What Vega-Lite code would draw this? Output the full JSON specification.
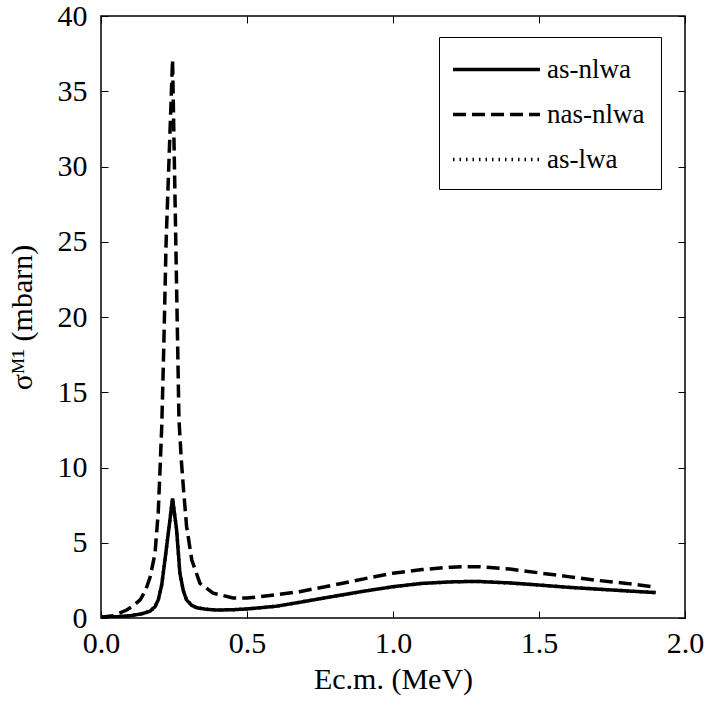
{
  "$schema": "https://vega.github.io/schema/vega-lite/v6.json",
  "description": "M1 cross section vs centre-of-mass energy",
  "width": 584,
  "height": 602,
  "autosize": "none",
  "padding": {"left": 101, "top": 16, "right": 21, "bottom": 83},
  "background": "white",
  "config": {
    "view": {"stroke": "black", "strokeWidth": 1.5},
    "font": "Liberation Serif, Times New Roman, serif",
    "axis": {
      "domain": false,
      "grid": false,
      "labelFlush": false,
      "labelOverlap": false,
      "tickColor": "black",
      "tickWidth": 1,
      "tickSize": -7,
      "labelFont": "Liberation Serif, Times New Roman, serif",
      "labelFontSize": 30,
      "labelColor": "black",
      "titleFont": "Liberation Serif, Times New Roman, serif",
      "titleFontSize": 30,
      "titleFontWeight": "normal",
      "titleColor": "black"
    }
  },
  "data": {
    "values": [
      {"E": 0.0, "sigma": 0.05, "model": "as-nlwa"},
      {"E": 0.05, "sigma": 0.08, "model": "as-nlwa"},
      {"E": 0.1, "sigma": 0.15, "model": "as-nlwa"},
      {"E": 0.14, "sigma": 0.28, "model": "as-nlwa"},
      {"E": 0.168, "sigma": 0.45, "model": "as-nlwa"},
      {"E": 0.185, "sigma": 0.75, "model": "as-nlwa"},
      {"E": 0.196, "sigma": 1.2, "model": "as-nlwa"},
      {"E": 0.208, "sigma": 2.2, "model": "as-nlwa"},
      {"E": 0.219, "sigma": 3.85, "model": "as-nlwa"},
      {"E": 0.236, "sigma": 6.5, "model": "as-nlwa"},
      {"E": 0.245, "sigma": 7.95, "model": "as-nlwa"},
      {"E": 0.259, "sigma": 5.85, "model": "as-nlwa"},
      {"E": 0.27, "sigma": 3.0, "model": "as-nlwa"},
      {"E": 0.282, "sigma": 1.8, "model": "as-nlwa"},
      {"E": 0.293, "sigma": 1.2, "model": "as-nlwa"},
      {"E": 0.31, "sigma": 0.85, "model": "as-nlwa"},
      {"E": 0.328, "sigma": 0.68, "model": "as-nlwa"},
      {"E": 0.36, "sigma": 0.58, "model": "as-nlwa"},
      {"E": 0.396, "sigma": 0.53, "model": "as-nlwa"},
      {"E": 0.45, "sigma": 0.55, "model": "as-nlwa"},
      {"E": 0.5, "sigma": 0.6, "model": "as-nlwa"},
      {"E": 0.6, "sigma": 0.78, "model": "as-nlwa"},
      {"E": 0.682, "sigma": 1.05, "model": "as-nlwa"},
      {"E": 0.8, "sigma": 1.45, "model": "as-nlwa"},
      {"E": 0.9, "sigma": 1.78, "model": "as-nlwa"},
      {"E": 1.0, "sigma": 2.08, "model": "as-nlwa"},
      {"E": 1.1, "sigma": 2.3, "model": "as-nlwa"},
      {"E": 1.2, "sigma": 2.4, "model": "as-nlwa"},
      {"E": 1.25, "sigma": 2.42, "model": "as-nlwa"},
      {"E": 1.3, "sigma": 2.42, "model": "as-nlwa"},
      {"E": 1.4, "sigma": 2.33, "model": "as-nlwa"},
      {"E": 1.5, "sigma": 2.19, "model": "as-nlwa"},
      {"E": 1.6, "sigma": 2.04, "model": "as-nlwa"},
      {"E": 1.7, "sigma": 1.92, "model": "as-nlwa"},
      {"E": 1.8, "sigma": 1.8, "model": "as-nlwa"},
      {"E": 1.9, "sigma": 1.69, "model": "as-nlwa"},

      {"E": 0.0, "sigma": 0.05, "model": "nas-nlwa"},
      {"E": 0.04, "sigma": 0.15, "model": "nas-nlwa"},
      {"E": 0.088, "sigma": 0.53, "model": "nas-nlwa"},
      {"E": 0.11, "sigma": 0.8, "model": "nas-nlwa"},
      {"E": 0.134, "sigma": 1.2, "model": "nas-nlwa"},
      {"E": 0.152, "sigma": 1.8, "model": "nas-nlwa"},
      {"E": 0.168, "sigma": 2.7, "model": "nas-nlwa"},
      {"E": 0.185, "sigma": 4.3, "model": "nas-nlwa"},
      {"E": 0.196, "sigma": 7.0, "model": "nas-nlwa"},
      {"E": 0.202, "sigma": 9.8, "model": "nas-nlwa"},
      {"E": 0.208, "sigma": 12.7, "model": "nas-nlwa"},
      {"E": 0.215, "sigma": 18.0, "model": "nas-nlwa"},
      {"E": 0.223, "sigma": 25.0, "model": "nas-nlwa"},
      {"E": 0.245, "sigma": 37.1, "model": "nas-nlwa"},
      {"E": 0.267, "sigma": 13.2, "model": "nas-nlwa"},
      {"E": 0.275, "sigma": 10.5, "model": "nas-nlwa"},
      {"E": 0.282, "sigma": 8.7, "model": "nas-nlwa"},
      {"E": 0.293, "sigma": 6.1, "model": "nas-nlwa"},
      {"E": 0.311, "sigma": 3.85, "model": "nas-nlwa"},
      {"E": 0.339, "sigma": 2.3, "model": "nas-nlwa"},
      {"E": 0.384, "sigma": 1.65, "model": "nas-nlwa"},
      {"E": 0.452, "sigma": 1.33, "model": "nas-nlwa"},
      {"E": 0.5, "sigma": 1.33, "model": "nas-nlwa"},
      {"E": 0.545, "sigma": 1.42, "model": "nas-nlwa"},
      {"E": 0.6, "sigma": 1.55, "model": "nas-nlwa"},
      {"E": 0.68, "sigma": 1.75, "model": "nas-nlwa"},
      {"E": 0.8, "sigma": 2.2, "model": "nas-nlwa"},
      {"E": 0.9, "sigma": 2.6, "model": "nas-nlwa"},
      {"E": 1.0, "sigma": 2.98, "model": "nas-nlwa"},
      {"E": 1.1, "sigma": 3.22, "model": "nas-nlwa"},
      {"E": 1.2, "sigma": 3.38, "model": "nas-nlwa"},
      {"E": 1.25, "sigma": 3.41, "model": "nas-nlwa"},
      {"E": 1.3, "sigma": 3.4, "model": "nas-nlwa"},
      {"E": 1.4, "sigma": 3.25, "model": "nas-nlwa"},
      {"E": 1.5, "sigma": 3.0, "model": "nas-nlwa"},
      {"E": 1.6, "sigma": 2.75, "model": "nas-nlwa"},
      {"E": 1.7, "sigma": 2.5, "model": "nas-nlwa"},
      {"E": 1.8, "sigma": 2.3, "model": "nas-nlwa"},
      {"E": 1.89, "sigma": 2.08, "model": "nas-nlwa"},

      {"E": 0.0, "sigma": 0.05, "model": "as-lwa"},
      {"E": 0.05, "sigma": 0.08, "model": "as-lwa"},
      {"E": 0.1, "sigma": 0.15, "model": "as-lwa"},
      {"E": 0.14, "sigma": 0.28, "model": "as-lwa"},
      {"E": 0.168, "sigma": 0.45, "model": "as-lwa"},
      {"E": 0.185, "sigma": 0.75, "model": "as-lwa"},
      {"E": 0.196, "sigma": 1.2, "model": "as-lwa"},
      {"E": 0.208, "sigma": 2.2, "model": "as-lwa"},
      {"E": 0.219, "sigma": 3.85, "model": "as-lwa"},
      {"E": 0.236, "sigma": 6.5, "model": "as-lwa"},
      {"E": 0.245, "sigma": 7.95, "model": "as-lwa"},
      {"E": 0.259, "sigma": 5.85, "model": "as-lwa"},
      {"E": 0.27, "sigma": 3.0, "model": "as-lwa"},
      {"E": 0.282, "sigma": 1.8, "model": "as-lwa"},
      {"E": 0.293, "sigma": 1.2, "model": "as-lwa"},
      {"E": 0.31, "sigma": 0.85, "model": "as-lwa"},
      {"E": 0.328, "sigma": 0.68, "model": "as-lwa"},
      {"E": 0.36, "sigma": 0.58, "model": "as-lwa"},
      {"E": 0.396, "sigma": 0.53, "model": "as-lwa"},
      {"E": 0.45, "sigma": 0.55, "model": "as-lwa"},
      {"E": 0.5, "sigma": 0.6, "model": "as-lwa"},
      {"E": 0.6, "sigma": 0.78, "model": "as-lwa"},
      {"E": 0.682, "sigma": 1.05, "model": "as-lwa"},
      {"E": 0.8, "sigma": 1.45, "model": "as-lwa"},
      {"E": 0.9, "sigma": 1.78, "model": "as-lwa"},
      {"E": 1.0, "sigma": 2.08, "model": "as-lwa"},
      {"E": 1.1, "sigma": 2.3, "model": "as-lwa"},
      {"E": 1.2, "sigma": 2.4, "model": "as-lwa"},
      {"E": 1.25, "sigma": 2.42, "model": "as-lwa"},
      {"E": 1.3, "sigma": 2.42, "model": "as-lwa"},
      {"E": 1.4, "sigma": 2.33, "model": "as-lwa"},
      {"E": 1.5, "sigma": 2.19, "model": "as-lwa"},
      {"E": 1.6, "sigma": 2.04, "model": "as-lwa"},
      {"E": 1.7, "sigma": 1.92, "model": "as-lwa"},
      {"E": 1.8, "sigma": 1.8, "model": "as-lwa"},
      {"E": 1.9, "sigma": 1.69, "model": "as-lwa"}
    ]
  },
  "layer": [
    {
      "mark": {"type": "line", "color": "black", "opacity": 0},
      "encoding": {
        "x": {
          "field": "E", "type": "quantitative",
          "scale": {"domain": [0, 2], "nice": false, "zero": false},
          "axis": {"orient": "top", "labels": false, "title": null, "values": [0, 0.5, 1, 1.5, 2]}
        },
        "y": {
          "field": "sigma", "type": "quantitative",
          "scale": {"domain": [0, 40], "nice": false},
          "axis": {"orient": "right", "labels": false, "title": null, "values": [0, 5, 10, 15, 20, 25, 30, 35, 40]}
        },
        "detail": {"field": "model"}
      }
    },
    {
      "mark": {"type": "line", "color": "black", "clip": true},
      "encoding": {
        "x": {
          "field": "E", "type": "quantitative",
          "scale": {"domain": [0, 2], "nice": false, "zero": false},
          "axis": {
            "orient": "bottom", "values": [0, 0.5, 1, 1.5, 2], "format": ".1f",
            "labelPadding": 17, "title": "Ec.m. (MeV)", "titlePadding": 6
          }
        },
        "y": {
          "field": "sigma", "type": "quantitative",
          "scale": {"domain": [0, 40], "nice": false},
          "axis": {
            "orient": "left", "values": [0, 5, 10, 15, 20, 25, 30, 35, 40],
            "labelPadding": 21, "title": "σᴹ¹ (mbarn)", "titlePadding": 20
          }
        },
        "strokeDash": {
          "field": "model", "type": "nominal",
          "scale": {"domain": ["as-nlwa", "nas-nlwa", "as-lwa"], "range": [[1, 0], [13, 6], [1.5, 5]]},
          "legend": {
            "title": null,
            "orient": "none",
            "legendX": 338,
            "legendY": 21,
            "direction": "vertical",
            "symbolType": "M-3,0H3",
            "symbolSize": 841,
            "symbolOffset": 25,
            "symbolStrokeColor": "black",
            "symbolFillColor": "transparent",
            "labelFont": "Liberation Serif, Times New Roman, serif",
            "labelFontSize": 27,
            "labelColor": "black",
            "labelOffset": 34,
            "rowPadding": 15,
            "padding": 16,
            "strokeColor": "black",
            "fillColor": "white"
          }
        },
        "strokeWidth": {
          "field": "model", "type": "nominal",
          "scale": {"domain": ["as-nlwa", "nas-nlwa", "as-lwa"], "range": [3.5, 3.5, 1.5]}
        }
      }
    }
  ],
  "resolve": {"axis": {"x": "independent", "y": "independent"}}
}
